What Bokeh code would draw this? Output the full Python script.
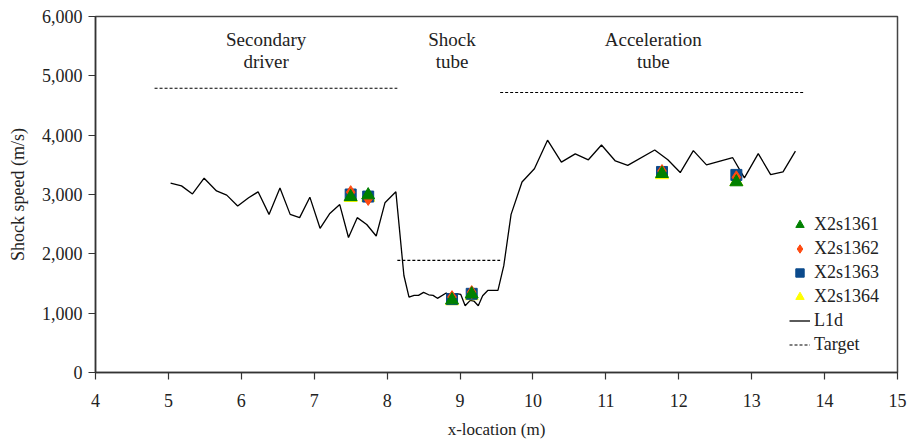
from bokeh.plotting import figure
from bokeh.models import Range1d, NumeralTickFormatter, FixedTicker, Legend, LegendItem
from bokeh.core.properties import value
from bokeh.embed import file_html
from bokeh.resources import INLINE

FONT = "'Liberation Serif', 'DejaVu Serif', serif"

# L1d simulated shock speed
l1d_x = [5.03, 5.18, 5.33, 5.49, 5.66, 5.80, 5.95, 6.10, 6.23, 6.38, 6.53, 6.67, 6.80,
         6.94, 7.08, 7.21, 7.35, 7.47, 7.59, 7.72, 7.85, 7.97, 8.12, 8.23, 8.30, 8.37,
         8.43, 8.50, 8.57, 8.63, 8.69, 8.81, 8.90, 8.95, 9.01, 9.07, 9.14, 9.19, 9.25,
         9.31, 9.38, 9.52, 9.60, 9.70, 9.85, 10.02, 10.20, 10.39, 10.58, 10.76, 10.94,
         11.13, 11.30, 11.67, 11.85, 12.02, 12.20, 12.38, 12.74, 12.90, 13.09, 13.26,
         13.43, 13.60]
l1d_y = [3190, 3145, 3010, 3275, 3060, 2990, 2805, 2945, 3045, 2665, 3110, 2665, 2610,
         2955, 2430, 2675, 2830, 2275, 2610, 2495, 2300, 2860, 3045, 1635, 1270, 1300,
         1300, 1350, 1310, 1300, 1250, 1340, 1260, 1330, 1316, 1126, 1215, 1204, 1126,
         1293, 1383, 1383, 1800, 2665, 3210, 3435, 3915, 3545, 3685, 3585, 3835, 3565,
         3490, 3750, 3585, 3370, 3740, 3500, 3620, 3280, 3690, 3335, 3380, 3730]

# experimental shots
s1361_x = [7.50, 7.74, 8.89, 9.16, 11.77, 12.79]
s1361_y = [2960, 2990, 1220, 1320, 3350, 3210]
s1362_x = [7.50, 7.74, 8.89, 9.16, 11.77, 12.79]
s1362_y = [3040, 2925, 1270, 1355, 3395, 3290]
s1363_x = [7.50, 7.74, 8.89, 9.16, 11.77, 12.79]
s1363_y = [3000, 2965, 1237, 1326, 3380, 3330]
s1364_x = [7.50, 7.74, 8.89, 9.16, 11.77, 12.79]
s1364_y = [2945, 2950, 1205, 1290, 3330, 3215]

# target speeds per section
target_x0 = [4.81, 8.14, 9.55]
target_x1 = [8.14, 9.55, 13.73]
target_y = [4790, 1890, 4720]

# section labels
sec_line1 = ["Secondary", "Shock", "Acceleration"]
sec_line2 = ["driver", "tube", "tube"]
sec_x = [6.34, 8.89, 11.65]

x_ticks = list(range(4, 16))
y_ticks = [0, 1000, 2000, 3000, 4000, 5000, 6000]

p = figure(width=907, height=441, output_backend="svg", toolbar_location=None,
           x_range=Range1d(4, 15), y_range=Range1d(0, 6000),
           min_border_left=95, min_border_right=10, min_border_top=16, min_border_bottom=65)
p.xgrid.visible = False
p.ygrid.visible = False
p.outline_line_color = "#444444"
p.outline_line_width = 1.5
p.background_fill_color = "white"

for ax in (p.xaxis[0], p.yaxis[0]):
    ax.axis_line_color = "#333333"
    ax.axis_line_width = 1.5
    ax.major_tick_line_color = "#333333"
    ax.major_tick_line_width = 1.2
    ax.major_tick_in = 0
    ax.major_tick_out = 7
    ax.minor_tick_line_color = None
    ax.major_label_text_font = FONT
    ax.major_label_text_font_size = "18px"
    ax.major_label_text_color = "#222222"
    ax.axis_label_text_font = FONT
    ax.axis_label_text_font_size = "17px"
    ax.axis_label_text_font_style = "normal"
    ax.axis_label_text_color = "#222222"

p.yaxis.axis_label_text_font_size = "18px"
p.xaxis.ticker = FixedTicker(ticks=x_ticks)
p.yaxis.ticker = FixedTicker(ticks=y_ticks)
p.yaxis.formatter = NumeralTickFormatter(format="0,0")
p.xaxis.axis_label = "x-location (m)"
p.yaxis.axis_label = "Shock speed (m/s)"
p.xaxis.major_label_standoff = 14
p.yaxis.major_label_standoff = 6
p.xaxis.axis_label_standoff = 10
p.yaxis.axis_label_standoff = 11

r_l1d = p.line(l1d_x, l1d_y, line_color="black", line_width=1.3)
r_tgt = p.segment(x0=target_x0, y0=target_y, x1=target_x1, y1=target_y,
                  line_color="black", line_width=1.1, line_dash="3 2")

r64 = p.scatter(s1364_x, s1364_y, marker="triangle", size=13, fill_color="#ffff00", line_color="#ffff00")
r63 = p.scatter(s1363_x, s1363_y, marker="square", size=11, fill_color="#0b4a8c", line_color="#0b4a8c")
r62 = p.scatter(s1362_x, s1362_y, marker="diamond", size=13, fill_color="#ff4a10", line_color="#ff4a10")
r61 = p.scatter(s1361_x, s1361_y, marker="triangle", size=13, fill_color="#008000", line_color="#008000")

p.text(x=sec_x, y=[5620] * 3, text=sec_line1, text_font=value(FONT), text_font_size="19px",
       text_align="center", text_baseline="middle", text_color="#222222")
p.text(x=sec_x, y=[5235] * 3, text=sec_line2, text_font=value(FONT), text_font_size="19px",
       text_align="center", text_baseline="middle", text_color="#222222")

legend = Legend(items=[
    LegendItem(label="X2s1361", renderers=[r61]),
    LegendItem(label="X2s1362", renderers=[r62]),
    LegendItem(label="X2s1363", renderers=[r63]),
    LegendItem(label="X2s1364", renderers=[r64]),
    LegendItem(label="L1d", renderers=[r_l1d]),
    LegendItem(label="Target", renderers=[r_tgt]),
], location=(694, 17))
legend.border_line_color = None
legend.background_fill_alpha = 0
legend.padding = 0
legend.margin = 0
legend.spacing = 3
legend.label_height = 21
legend.glyph_height = 21
legend.glyph_width = 21
legend.label_standoff = 4
legend.label_text_font = FONT
legend.label_text_font_size = "18px"
legend.label_text_color = "#222222"
p.add_layout(legend, "center")

open("out.html", "w").write(file_html(p, INLINE))
